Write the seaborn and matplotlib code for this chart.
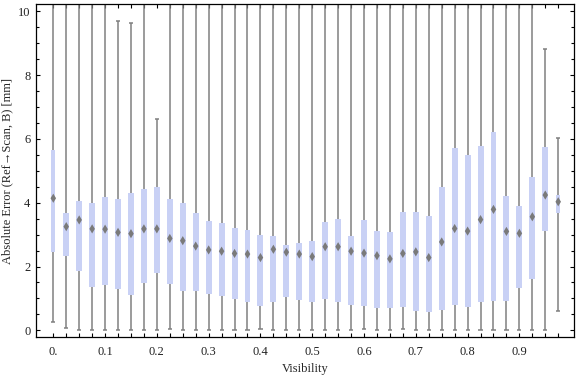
import matplotlib
matplotlib.use("Agg")
import matplotlib.pyplot as plt
from matplotlib.ticker import MultipleLocator
import seaborn as sns
import pandas as pd

# box positions (visibility bins) and box statistics
visibility = [round(0.025 * i, 3) for i in range(40)]
q1 = [2.46, 2.33, 1.87, 1.35, 1.43, 1.29, 1.12, 1.49, 1.81, 1.46,
      1.24, 1.24, 1.15, 1.09, 0.99, 0.89, 0.77, 0.89, 1.05, 0.96,
      0.89, 0.99, 0.90, 0.78, 0.77, 0.71, 0.71, 0.74, 0.62, 0.58,
      0.65, 0.78, 0.72, 0.89, 0.93, 0.93, 1.34, 1.60, 3.12, 3.69]
q3 = [5.64, 3.67, 4.04, 3.98, 4.17, 4.11, 4.29, 4.42, 4.48, 4.11,
      3.99, 3.67, 3.43, 3.36, 3.20, 3.14, 2.99, 2.96, 2.67, 2.73,
      2.80, 3.40, 3.49, 2.95, 3.45, 3.11, 3.08, 3.71, 3.71, 3.57,
      4.48, 5.71, 5.49, 5.78, 6.22, 4.20, 3.90, 4.81, 5.75, 4.24]
median = [4.14, 3.25, 3.46, 3.18, 3.17, 3.07, 3.03, 3.18, 3.18, 2.88,
          2.81, 2.64, 2.52, 2.48, 2.41, 2.39, 2.28, 2.54, 2.45, 2.39,
          2.31, 2.62, 2.62, 2.48, 2.42, 2.34, 2.24, 2.41, 2.46, 2.28,
          2.77, 3.19, 3.11, 3.47, 3.79, 3.10, 3.04, 3.56, 4.24, 4.03]
whisker_low = [0.27, 0.06, 0.0, 0.0, 0.0, 0.0, 0.0, 0.0, 0.0, 0.03,
               0.0, 0.0, 0.0, 0.0, 0.0, 0.0, 0.03, 0.0, 0.0, 0.0,
               0.0, 0.0, 0.0, 0.0, 0.03, 0.0, 0.0, 0.03, 0.0, 0.0,
               0.0, 0.0, 0.0, 0.0, 0.0, 0.0, 0.0, 0.0, 0.0, 0.60]
# 15 = whisker runs off the top of the plot
whisker_high = [15, 15, 15, 15, 15, 9.69, 9.64, 15, 6.61, 15,
                15, 15, 15, 15, 15, 15, 15, 15, 15, 15,
                15, 15, 15, 15, 15, 15, 15, 15, 15, 15,
                15, 15, 15, 15, 15, 15, 15, 15, 8.81, 6.02]
x_tick_values = [0.0, 0.1, 0.2, 0.3, 0.4, 0.5, 0.6, 0.7, 0.8, 0.9]
x_tick_labels = ["0.", "0.1", "0.2", "0.3", "0.4", "0.5", "0.6", "0.7", "0.8", "0.9"]

df = pd.DataFrame({"visibility": visibility, "q1": q1, "q3": q3,
                   "median": median, "lo": whisker_low, "hi": whisker_high})
df["height"] = df["q3"] - df["q1"]

sns.set_theme(style="ticks")
plt.rcParams["font.family"] = ["Liberation Serif", "DejaVu Serif"]

box_color = "#c9d1f5"
whisker_color = "#808080"

fig = plt.figure(figsize=(5.76, 3.77), dpi=100)
ax = fig.add_axes([0.0625, 0.1053, 0.9345, 0.8841])

# whiskers with caps, behind the boxes
ax.vlines(df["visibility"], df["lo"], df["hi"], color=whisker_color,
          linewidth=1.1, zorder=1)
ax.hlines(df["lo"], df["visibility"] - 0.004, df["visibility"] + 0.004,
          color=whisker_color, linewidth=1.1, zorder=1)
ax.hlines(df["hi"], df["visibility"] - 0.004, df["visibility"] + 0.004,
          color=whisker_color, linewidth=1.1, zorder=1)

# interquartile boxes
widths = [0.0115] * len(visibility)
widths[0] = 0.008
widths[-1] = 0.008
ax.bar(df["visibility"], df["height"], bottom=df["q1"], width=widths,
       color=box_color, edgecolor="none", linewidth=0, zorder=2)

# median diamonds
sns.scatterplot(data=df, x="visibility", y="median", ax=ax, marker="d",
                s=22, color="#7a7a7a", edgecolor="none", zorder=3, legend=False)

ax.set_xlim(-0.0334, 1.006)
ax.set_ylim(-0.219, 10.229)

ax.set_xticks(x_tick_values)
ax.set_xticklabels(x_tick_labels)
ax.set_xticks(visibility, minor=True)
ax.yaxis.set_major_locator(MultipleLocator(2))
ax.yaxis.set_minor_locator(MultipleLocator(0.5))

ax.tick_params(axis="both", which="both", direction="in", top=True, right=True,
               width=0.8, color="black", labelsize=9, labelcolor="#222222")
ax.tick_params(axis="both", which="major", length=3, pad=4)
ax.tick_params(axis="x", which="minor", length=3)
ax.tick_params(axis="y", which="minor", length=2)
ax.tick_params(axis="x", which="major", pad=6)

for side in ax.spines.values():
    side.set_linewidth(0.9)
    side.set_color("black")

ax.set_xlabel("Visibility", fontsize=9, labelpad=4)
ax.set_ylabel("Absolute Error (Ref\u2192Scan, B) [mm]", fontsize=9, labelpad=3)

fig.savefig("out.png", dpi=100)
